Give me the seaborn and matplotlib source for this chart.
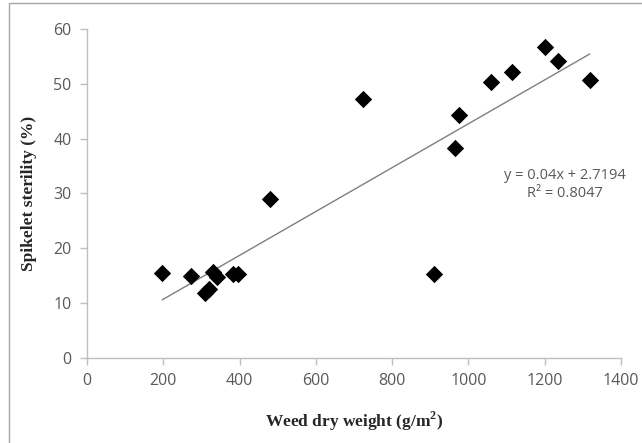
import matplotlib
matplotlib.use("Agg")
import matplotlib.pyplot as plt
import seaborn as sns
import numpy as np
import pandas as pd
from matplotlib.patches import Rectangle

# Data
weed_dry_weight = [197, 273, 310, 320, 331, 341, 383, 396, 480, 724,
                   911, 966, 976, 1060, 1115, 1202, 1234, 1318]
spikelet_sterility = [15.5, 15.0, 11.9, 12.6, 15.7, 14.8, 15.3, 15.3, 29.0, 47.3,
                      15.3, 38.3, 44.3, 50.4, 52.2, 56.8, 54.2, 50.7]
trend_slope = 0.04
trend_intercept = 2.7194
r_squared = 0.8047
x_ticks = [0, 200, 400, 600, 800, 1000, 1200, 1400]
y_ticks = [0, 10, 20, 30, 40, 50, 60]

df = pd.DataFrame({"x": weed_dry_weight, "y": spikelet_sterility})

sns.set_style("white")
plt.rcParams["font.family"] = ["Open Sans", "DejaVu Sans"]

fig = plt.figure(figsize=(6.42, 4.43), dpi=100)
ax = fig.add_axes([87 / 642, 1 - 358 / 443, (621 - 87) / 642, (358 - 29) / 443])

# outer chart frame
fig.patches.append(Rectangle((9 / 642, -0.01), 1.0, 1 - 3 / 443 + 0.01,
                             transform=fig.transFigure, fill=False,
                             edgecolor="#a6a6a6", linewidth=1.0))

sns.scatterplot(data=df, x="x", y="y", marker="D", s=78, color="black",
                edgecolor="black", linewidth=0, ax=ax, zorder=3)

xl = np.array([min(weed_dry_weight), max(weed_dry_weight)])
sns.lineplot(x=xl, y=trend_slope * xl + trend_intercept, color="#7f7f7f",
             linewidth=1.0, ax=ax, zorder=2)

ax.set_xlim(0, 1400)
ax.set_ylim(0, 60)
ax.set_xticks(x_ticks)
ax.set_yticks(y_ticks)
ax.set_xticklabels([str(t) for t in x_ticks])
ax.set_yticklabels([str(t) for t in y_ticks])

for side in ["top", "right"]:
    ax.spines[side].set_visible(False)
for side in ["left", "bottom"]:
    ax.spines[side].set_color("#bfbfbf")
    ax.spines[side].set_linewidth(1.0)

ax.tick_params(axis="both", which="major", direction="out", length=5,
               width=1.0, color="#bfbfbf", labelsize=11.5, labelcolor="#595959",
               bottom=True, left=True, pad=6)

ax.set_xlabel("Weed dry weight (g/m$^\\mathregular{2}$)", family="Liberation Serif",
              fontweight="bold", fontsize=12.5, color="#262626", labelpad=15)
ax.set_ylabel("Spikelet sterility (%)", family="Liberation Serif",
              fontweight="bold", fontsize=12.5, color="#262626", labelpad=12)

ax.text(1254, 33.3, f"y = {trend_slope}x + {trend_intercept}", ha="center",
        va="center", fontsize=10.5, color="#595959")
ax.text(1254, 30.0, f"R² = {r_squared}", ha="center", va="center",
        fontsize=10.5, color="#595959")

fig.savefig("out.png", dpi=100)
